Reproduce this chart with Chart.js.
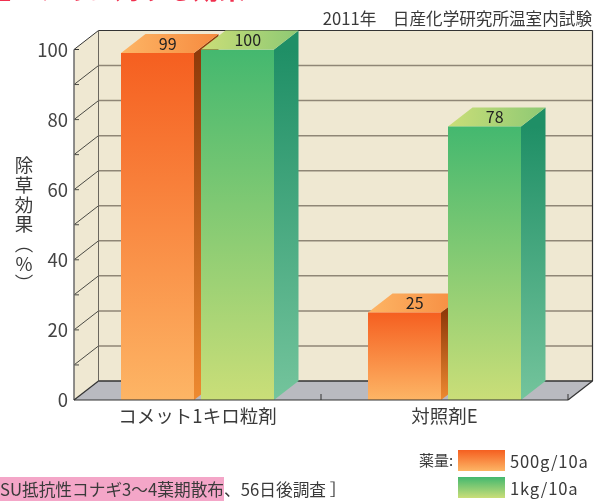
<!DOCTYPE html>
<html lang="ja">
<head>
<meta charset="utf-8">
<script src="https://cdn.jsdelivr.net/npm/chart.js@4"></script>
<style>
  html, body { margin: 0; padding: 0; background: #fff; overflow: hidden; }
  #wrap { position: relative; width: 595px; height: 502px; overflow: hidden; font-family: "Noto Sans CJK JP", sans-serif; color: #3a3a3a; }
  #wrap div { position: absolute; white-space: nowrap; }
  #headline { right: 350px; top: -27px; font-size: 26px; font-weight: 700; color: #f0304f; line-height: 30px; }
  #note { right: 3px; top: 6px; font-size: 16.6px; line-height: 24px; }
  #yname { left: 13px; top: 156px; font-size: 18.5px; line-height: 22px; letter-spacing: 1.2px; writing-mode: vertical-rl; }
  #foot { left: 0; top: 479px; font-size: 16.7px; line-height: 20px; }
  #foot mark { background: #f4a6c8; color: #3a3a3a; }
  .swatch { left: 458px; width: 47px; height: 21px; }
  .leg { left: 510px; font-size: 16.6px; line-height: 20px; letter-spacing: 0.8px; }
</style>
</head>
<body>
<div id="wrap">
  <canvas id="chart" width="595" height="502"></canvas>
  <div id="headline">SU抵抗性コナギに対する効果</div>
  <div id="note">2011年　日産化学研究所温室内試験</div>
  <div id="yname">除草効果（％）</div>
  <div id="foot"><mark>SU抵抗性コナギ3〜4葉期散布</mark>、56日後調査 ］</div>
  <div style="left:419px;top:450px;font-size:15px;line-height:20px">薬量:</div>
  <div class="swatch" style="top:450px;background:linear-gradient(#f55f20,#fdb565)"></div>
  <div class="leg" id="leg0" style="top:451px"></div>
  <div class="swatch" style="top:477px;background:linear-gradient(#44b86f,#cade78)"></div>
  <div class="leg" id="leg1" style="top:478px"></div>
</div>
<script>
var categories = ["コメット1キロ粒剤", "対照剤E"];
var series500g = [99, 25];
var series1kg = [100, 78];
var seriesNames = ["500g/10a", "1kg/10a"];
var yTicks = [0, 20, 40, 60, 80, 100];

var DX = 24.5, DY = -19;
var faces = [
  { front: ["#f55f20", "#fdb565"], side: ["#8f3a0a", "#ee8a30"], top: ["#fdb565", "#f68a3f"] },
  { front: ["#44b86f", "#cade78"], side: ["#1f8f66", "#74c49c"], top: ["#cade78", "#8ec974"] }
];

document.getElementById("leg0").textContent = seriesNames[0];
document.getElementById("leg1").textContent = seriesNames[1];

function frontFill(i) {
  return function (c) {
    if (!c.chart.chartArea || !c.parsed) return faces[i].front[0];
    var y = c.chart.scales.y;
    var g = c.chart.ctx.createLinearGradient(0, y.getPixelForValue(c.parsed.y), 0, y.getPixelForValue(0));
    g.addColorStop(0, faces[i].front[0]);
    g.addColorStop(1, faces[i].front[1]);
    return g;
  };
}

function poly(ctx, pts, fill) {
  ctx.beginPath();
  ctx.moveTo(pts[0][0], pts[0][1]);
  for (var i = 1; i < pts.length; i++) ctx.lineTo(pts[i][0], pts[i][1]);
  ctx.closePath();
  ctx.fillStyle = fill;
  ctx.fill();
}

function line(ctx, x1, y1, x2, y2, color, w) {
  ctx.beginPath();
  ctx.moveTo(x1, y1);
  ctx.lineTo(x2, y2);
  ctx.strokeStyle = color;
  ctx.lineWidth = w;
  ctx.stroke();
}

// box room behind the bars plus the depth faces of each bar
var room = {
  id: "room",
  beforeDatasetsDraw: function (chart) {
    var ctx = chart.ctx, a = chart.chartArea, y = chart.scales.y;
    var l = a.left, r = a.right, t = a.top, b = a.bottom;
    ctx.save();
    poly(ctx, [[l + DX, t + DY], [r + DX, t + DY], [r + DX, b + DY], [l + DX, b + DY]], "#efe8d2");
    poly(ctx, [[l, t], [l + DX, t + DY], [l + DX, b + DY], [l, b]], "#efe8d2");
    poly(ctx, [[l, b], [l + DX, b + DY], [r + DX, b + DY], [r, b]], "#b9bac0");
    for (var v = 10; v <= 90; v += 10) {
      var p = y.getPixelForValue(v);
      line(ctx, l + DX, p + DY, r + DX, p + DY, "#8f8676", 1.5);
      line(ctx, l, p, l + DX, p + DY, "#4a4a44", 1);
      line(ctx, l, p, l + 5, p, "#4a4a44", 1);
    }
    line(ctx, l, t, l + DX, t + DY, "#333", 1);
    line(ctx, l, t, l + 5, t, "#333", 1);
    line(ctx, l + DX, t + DY, r + DX, t + DY, "#333", 1.2);
    line(ctx, l + DX, t + DY, l + DX, b + DY, "#6b675e", 1);
    line(ctx, r + DX, t + DY, r + DX, b + DY, "#333", 1.2);
    line(ctx, l, t, l, b, "#6a6a6a", 1.5);
    line(ctx, l + DX, b + DY, r + DX, b + DY, "#333", 1.5);
    line(ctx, l, b, l + DX, b + DY, "#333", 1.2);
    line(ctx, r, b, r + DX, b + DY, "#333", 1.2);

    chart.data.datasets.forEach(function (ds, i) {
      chart.getDatasetMeta(i).data.forEach(function (bar) {
        var x0 = bar.x - bar.width / 2, x1 = bar.x + bar.width / 2;
        var sg = ctx.createLinearGradient(0, bar.y, 0, bar.base);
        sg.addColorStop(0, faces[i].side[0]);
        sg.addColorStop(1, faces[i].side[1]);
        poly(ctx, [[x1, bar.y], [x1 + DX, bar.y + DY], [x1 + DX, bar.base + DY], [x1, bar.base]], sg);
        var tg = ctx.createLinearGradient(x0, 0, x1 + DX, 0);
        tg.addColorStop(0, faces[i].top[0]);
        tg.addColorStop(1, faces[i].top[1]);
        poly(ctx, [[x0, bar.y], [x0 + DX, bar.y + DY], [x1 + DX, bar.y + DY], [x1, bar.y]], tg);
      });
    });
    ctx.restore();
  },
  afterDatasetsDraw: function (chart) {
    var ctx = chart.ctx, a = chart.chartArea, xs = chart.scales.x;
    var mid = (xs.getPixelForValue(0) + xs.getPixelForValue(1)) / 2;
    ctx.save();
    line(ctx, a.left, a.bottom, a.right, a.bottom, "#333", 1.2);
    line(ctx, mid, a.bottom, mid, a.bottom - 6, "#333", 1);
    line(ctx, a.right, a.bottom, a.right, a.bottom - 6, "#333", 1);
    ctx.font = '16px "Noto Sans CJK JP", sans-serif';
    ctx.fillStyle = "#222";
    ctx.textAlign = "center";
    ctx.textBaseline = "middle";
    chart.data.datasets.forEach(function (ds, i) {
      chart.getDatasetMeta(i).data.forEach(function (bar, j) {
        ctx.fillText(ds.data[j], bar.x + DX / 2 - 2, bar.y + DY / 2);
      });
    });
    ctx.restore();
  }
};

new Chart(document.getElementById("chart"), {
  type: "bar",
  data: {
    labels: categories,
    datasets: [
      { label: seriesNames[0], data: series500g, backgroundColor: frontFill(0) },
      { label: seriesNames[1], data: series1kg, backgroundColor: frontFill(1) }
    ]
  },
  options: {
    responsive: false,
    animation: false,
    categoryPercentage: 160 / 247,
    barPercentage: 73 / 80,
    layout: { padding: { top: 49.5, right: 27, left: 0, bottom: 0 } },
    plugins: { legend: { display: false }, title: { display: false }, tooltip: { enabled: false } },
    scales: {
      x: {
        grid: { display: false, drawTicks: false },
        border: { display: false },
        afterFit: function (s) { s.height = 102; },
        ticks: { color: "#3a3a3a", padding: 5, maxRotation: 0, font: { family: '"Noto Sans CJK JP", sans-serif', size: 18.5 } }
      },
      y: {
        min: 0,
        max: 100,
        grid: { display: false, drawTicks: false },
        border: { display: false },
        afterFit: function (s) { s.width = 74; },
        ticks: {
          stepSize: 10,
          autoSkip: false,
          padding: 6,
          color: "#444",
          font: { family: '"Noto Sans CJK JP", sans-serif', size: 18.5 },
          callback: function (v) { return yTicks.indexOf(v) >= 0 ? v : ""; }
        }
      }
    }
  },
  plugins: [room]
});
</script>
</body>
</html>
